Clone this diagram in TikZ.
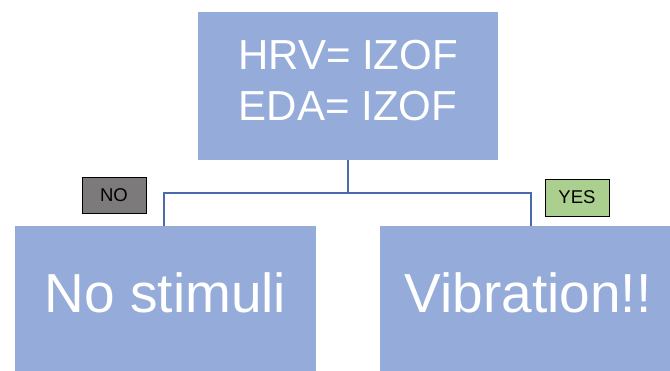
\documentclass[tikz,border=0pt]{standalone}
\usepackage{fontspec}
\setmainfont{Liberation Sans}
\definecolor{boxblue}{RGB}{149,171,217}
\definecolor{linkblue}{RGB}{74,106,172}
\definecolor{nogray}{RGB}{124,122,122}
\definecolor{yesgreen}{RGB}{170,207,142}
\begin{document}
\begin{tikzpicture}[x=1pt,y=-1pt,
  bigbox/.style={fill=boxblue,draw=none,text=white,inner sep=0pt,align=center},
  tagbox/.style={draw=black,line width=1pt,inner sep=0pt,font=\fontsize{18.5}{20}\selectfont},
  link/.style={draw=linkblue,line width=1.5pt}]
\useasboundingbox (0,0) rectangle (670,370);
% decision boxes
\node[bigbox,minimum width=300pt,minimum height=148pt,text depth=12pt,
  font=\fontsize{42}{51}\selectfont] (top) at (348,86) {HRV= IZOF\\EDA= IZOF};
\node[bigbox,minimum width=301pt,minimum height=150pt,text depth=16pt,
  font=\fontsize{55}{60}\selectfont] (left) at (165.5,301) {No stimuli};
\node[bigbox,minimum width=296pt,minimum height=150pt,text depth=16pt,
  font=\fontsize{55}{60}\selectfont] (right) at (528,301) {Vibration!!};
% branch tags
\node[tagbox,fill=nogray,minimum width=64pt,minimum height=36pt] (no) at (114,195) {NO};
\node[tagbox,fill=yesgreen,minimum width=64pt,minimum height=37pt] (yes) at (577,197.5) {YES};
% connectors
\coordinate (split) at (348,193);
\draw[link] (top.south) -- (split);
\draw[link] (left.north -| 164,0) |- (split) -| (right.north -| 531,0);
\end{tikzpicture}
\end{document}
